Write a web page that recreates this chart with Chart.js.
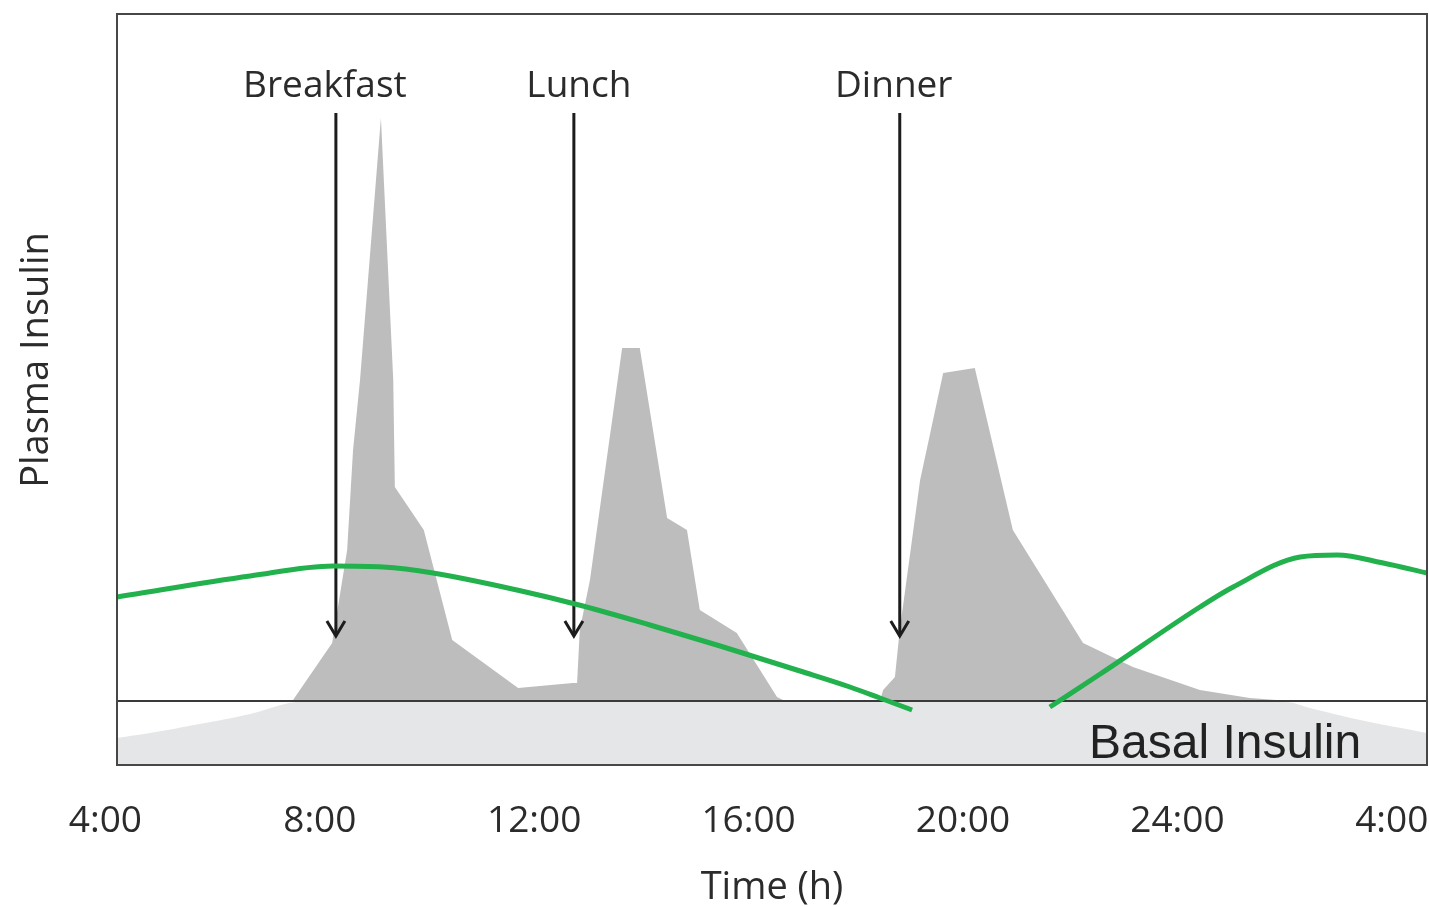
<!DOCTYPE html>
<html>
<head>
<meta charset="utf-8">
<script src="https://cdn.jsdelivr.net/npm/chart.js@4.4.1/dist/chart.umd.min.js"></script>
<style>
  body { margin: 0; background: #fff; }
  #wrap { width: 1429px; height: 907px; }
</style>
</head>
<body>
<div id="wrap"><canvas id="insulinChart"></canvas></div>
<script>
// time in hours: 4 = 4:00, 28 = 4:00 next morning
const tickHours = [4, 8, 12, 16, 20, 24, 28];
const tickLabels = ['4:00', '8:00', '12:00', '16:00', '20:00', '24:00', '4:00'];

// meal-driven plasma insulin (grey area)
const plasmaHours = [4.22, 7.35, 7.50, 8.23, 8.51, 8.62, 8.75, 9.14, 9.37, 9.40, 9.94, 10.47, 11.70, 12.72,
  12.80, 12.85, 13.04, 13.64, 13.97, 14.48, 14.85, 15.09, 15.78, 16.53, 16.68,
  18.45, 18.51, 18.73, 18.82, 19.20, 19.63, 20.22, 20.93, 22.24, 23.17, 24.42, 25.35, 26.10, 28.66];
const plasmaValues = [0, 0, 0.1, 5.8, 15.1, 25.1, 32.1, 58.3, 32.1, 21.4, 17.1, 6.1, 1.3, 1.8,
  1.8, 7.1, 12.1, 35.3, 35.3, 18.3, 17.1, 9.1, 6.8, 0.4, 0,
  0, 1.1, 2.4, 7.1, 22.1, 32.8, 33.3, 17.1, 5.8, 3.4, 1.1, 0.3, 0, 0];

// circadian curve (green), broken between dinner and late evening
const rhythmHours = [4.22, 6.70, 8.25, 9.18, 10.11, 11.68, 12.91, 14.16, 15.47, 16.96, 17.89, 18.45, 19.05,
  20.30,
  21.62, 22.56, 24.42, 25.04, 26.29, 26.98, 27.84, 28.66];
const rhythmValues = [10.4, 12.5, 13.5, 13.4, 12.8, 11.1, 9.5, 7.6, 5.5, 3.0, 1.4, 0.3, -0.9,
  null,
  -0.6, 2.7, 9.4, 11.4, 14.4, 14.6, 13.8, 12.8];

// basal insulin band top edge
const basalHours = [4.22, 4.83, 5.76, 6.70, 7.35, 7.63, 26.01, 26.47, 27.41, 28.66];
const basalValues = [-3.7, -3.2, -2.3, -1.3, -0.3, -0.1, -0.1, -0.7, -1.9, -3.2];

const baselineHours = [4.22, 28.66];
const baselineValues = [0, 0];

const mealNames = ['Breakfast', 'Lunch', 'Dinner'];
const mealHours = [8.30, 12.74, 18.82];

const toPoints = (xs, ys) => xs.map((x, i) => ({ x: x, y: ys[i] }));

const textColor = '#2b2b2b';
const font = '"Open Sans", "Noto Sans", sans-serif';
// labels sit slightly off their arrows in the original
const labelNudge = { Breakfast: -11, Lunch: 5, Dinner: -6 };

const overlay = {
  id: 'overlay',
  afterDatasetDraw(chart, args) {
    if (args.index !== 2) return; // right after the grey area, below the green line
    const { ctx } = chart;
    const xs = chart.scales.x, ys = chart.scales.y;
    ctx.save();
    ctx.strokeStyle = '#1c1c1c';
    ctx.lineWidth = 3;
    ctx.fillStyle = textColor;
    ctx.font = '37px ' + font;
    ctx.textAlign = 'center';
    ctx.textBaseline = 'middle';
    mealNames.forEach((name, i) => {
      const px = xs.getPixelForValue(mealHours[i]);
      const top = ys.getPixelForValue(58.8);
      const tip = ys.getPixelForValue(6.5);
      ctx.beginPath();
      ctx.moveTo(px, top);
      ctx.lineTo(px, tip - 2);
      ctx.stroke();
      ctx.beginPath();
      ctx.moveTo(px - 9, tip - 15);
      ctx.lineTo(px, tip);
      ctx.lineTo(px + 9, tip - 15);
      ctx.stroke();
      ctx.fillText(name, px + labelNudge[name], ys.getPixelForValue(61.5));
    });
    ctx.restore();
  },
  afterDraw(chart) {
    const { ctx, chartArea } = chart;
    const xs = chart.scales.x, ys = chart.scales.y;
    ctx.save();
    ctx.strokeStyle = '#474747';
    ctx.lineWidth = 2;
    ctx.strokeRect(chartArea.left, chartArea.top, chartArea.right - chartArea.left, chartArea.bottom - chartArea.top);

    ctx.fillStyle = '#222';
    ctx.font = '48px "Liberation Sans", Arial, sans-serif';
    ctx.textAlign = 'center';
    ctx.textBaseline = 'middle';
    ctx.fillText('Basal Insulin', xs.getPixelForValue(24.89), ys.getPixelForValue(-4.4));

    ctx.fillStyle = textColor;
    ctx.font = '38px ' + font;
    ctx.translate(chartArea.left - 80, ys.getPixelForValue(34.1));
    ctx.rotate(-Math.PI / 2);
    ctx.fillText('Plasma Insulin', 0, 0);
    ctx.restore();
  }
};

new Chart(document.getElementById('insulinChart'), {
  type: 'line',
  data: {
    datasets: [
      {
        label: 'Circadian',
        data: toPoints(rhythmHours, rhythmValues),
        borderColor: '#22b14c',
        borderWidth: 5,
        pointRadius: 0,
        cubicInterpolationMode: 'monotone',
        spanGaps: false,
        fill: false
      },
      {
        label: 'Baseline',
        data: toPoints(baselineHours, baselineValues),
        borderColor: '#3a3a3a',
        borderWidth: 2,
        pointRadius: 0,
        fill: false
      },
      {
        label: 'Plasma insulin',
        data: toPoints(plasmaHours, plasmaValues),
        borderWidth: 0,
        borderColor: 'rgba(0,0,0,0)',
        backgroundColor: '#bdbdbe',
        pointRadius: 0,
        tension: 0,
        fill: 'origin'
      },
      {
        label: 'Basal insulin',
        data: toPoints(basalHours, basalValues),
        borderWidth: 0,
        borderColor: 'rgba(0,0,0,0)',
        backgroundColor: '#e5e6e7',
        pointRadius: 0,
        tension: 0.4,
        fill: 'start'
      }
    ]
  },
  options: {
    responsive: true,
    maintainAspectRatio: false,
    animation: false,
    layout: { padding: { left: 117, right: 2, top: 14, bottom: 0 } },
    plugins: {
      legend: { display: false },
      tooltip: { enabled: false }
    },
    scales: {
      x: {
        type: 'linear',
        min: 4.216,
        max: 28.657,
        grid: { display: false, drawTicks: false },
        border: { display: false },
        afterBuildTicks: (scale) => {
          scale.ticks = tickHours.map(v => ({ value: v }));
        },
        afterFit: (scale) => {
          scale.height = 142;
          scale.paddingLeft = 0;
          scale.paddingRight = 0;
        },
        ticks: {
          autoSkip: false,
          maxRotation: 0,
          padding: 34,
          color: textColor,
          font: { family: font, size: 37 },
          callback: (value) => tickLabels[tickHours.indexOf(value)]
        },
        title: {
          display: true,
          text: 'Time (h)',
          color: textColor,
          font: { family: font, size: 38 },
          padding: { top: 0, bottom: -4 }
        }
      },
      y: {
        display: false,
        min: -6.4,
        max: 68.7
      }
    }
  },
  plugins: [overlay]
});
</script>
</body>
</html>
